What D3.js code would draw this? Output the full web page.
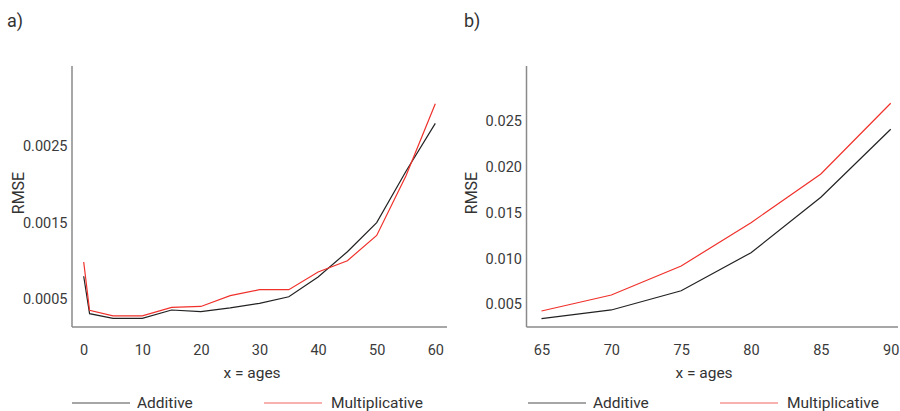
<!DOCTYPE html>
<html>
<head>
<meta charset="utf-8">
<script src="https://cdn.jsdelivr.net/npm/d3@7"></script>
<style>
  html, body { margin: 0; padding: 0; background: #fff; }
  svg { display: block; font-family: Roboto, "Noto Sans", sans-serif; }
  .tick text { fill: #3a3a3a; font-size: 14.5px; }
</style>
</head>
<body>
<svg id="chart" width="900" height="411"></svg>
<script>
// ---- Data ----
const agesA = [0, 1, 5, 10, 15, 20, 25, 30, 35, 40, 45, 50, 55, 60];
const additiveA = [0.000800, 0.000312, 0.000250, 0.000250, 0.000360, 0.000338, 0.000388, 0.000447, 0.000533, 0.000790, 0.001120, 0.001500, 0.002170, 0.002795];
const multiplicativeA = [0.000986, 0.000355, 0.000283, 0.000283, 0.000395, 0.000406, 0.000547, 0.000625, 0.000625, 0.000856, 0.001003, 0.001333, 0.002110, 0.003050];

const agesB = [65, 70, 75, 80, 85, 90];
const additiveB = [0.00343, 0.00438, 0.00648, 0.01063, 0.01668, 0.02410];
const multiplicativeB = [0.00427, 0.00601, 0.00918, 0.01391, 0.01922, 0.02694];

const yTicksA = [0.0005, 0.0015, 0.0025];
const yTicksB = [0.005, 0.010, 0.015, 0.020, 0.025];
const xTicksA = [0, 10, 20, 30, 40, 50, 60];
const xTicksB = [65, 70, 75, 80, 85, 90];
const seriesNames = ["Additive", "Multiplicative"];
const seriesColors = ["#222222", "#f0312b"];

const svg = d3.select("#chart");

function panel(cfg) {
  const g = svg.append("g");
  const x = d3.scaleLinear().domain(cfg.xDomain).range(cfg.xRange);
  const y = d3.scaleLinear().domain(cfg.yDomain).range([327, 66]);

  // axis lines
  g.append("line").attr("x1", cfg.axisX).attr("x2", cfg.axisX).attr("y1", 66).attr("y2", 327)
    .attr("stroke", "#8a8a8a").attr("stroke-width", 1.5);
  g.append("line").attr("x1", cfg.axisX).attr("x2", cfg.axisRight).attr("y1", 327).attr("y2", 327)
    .attr("stroke", "#8a8a8a").attr("stroke-width", 1.5);

  const ya = g.append("g").attr("transform", `translate(${cfg.axisX - 0.5},0)`)
    .call(d3.axisLeft(y).tickValues(cfg.yTicks).tickFormat(d3.format(cfg.yFmt)).tickSize(0).tickPadding(4));
  ya.select(".domain").remove();
  const xa = g.append("g").attr("transform", `translate(0,327)`)
    .call(d3.axisBottom(x).tickValues(cfg.xTicks).tickFormat(d3.format("d")).tickSize(0).tickPadding(18));
  xa.select(".domain").remove();
  g.selectAll(".tick text").attr("font-family", "Roboto, sans-serif");

  const line = d3.line().x(d => x(d[0])).y(d => y(d[1]));
  [cfg.add, cfg.mult].forEach((vals, i) => {
    g.append("path")
      .datum(cfg.ages.map((a, j) => [a, vals[j]]))
      .attr("fill", "none")
      .attr("stroke", seriesColors[i])
      .attr("stroke-width", 1.2)
      .attr("d", line);
  });

  // labels
  g.append("text").attr("x", cfg.panelLabelX).attr("y", 27).text(cfg.panelLabel)
    .attr("font-size", 18).attr("fill", "#333");
  g.append("text").attr("transform", `translate(${cfg.rmseX},193) rotate(-90)`)
    .attr("text-anchor", "middle").attr("dominant-baseline", "central")
    .attr("font-size", 16).attr("fill", "#333").text("RMSE");
  g.append("text").attr("x", cfg.titleX).attr("y", 373).attr("text-anchor", "middle")
    .attr("dominant-baseline", "central").attr("font-size", 15.5).attr("fill", "#333").text("x = ages");

  // legend
  cfg.legend.forEach((lg, i) => {
    g.append("line").attr("x1", lg.x1).attr("x2", lg.x2).attr("y1", 403).attr("y2", 403)
      .attr("stroke", seriesColors[i]).attr("stroke-opacity", i === 0 ? 0.8 : 0.75).attr("stroke-width", 1.2);
    g.append("text").attr("x", lg.tx).attr("y", 403).attr("dominant-baseline", "central")
      .attr("font-size", 15.5).attr("fill", "#333").text(seriesNames[i]);
  });
}

panel({
  xDomain: [0, 60], xRange: [83.7, 435.3],
  yDomain: [0.000138, 0.003543],
  axisX: 72, axisRight: 447,
  yTicks: yTicksA, yFmt: ".4f", xTicks: xTicksA,
  ages: agesA, add: additiveA, mult: multiplicativeA,
  panelLabel: "a)", panelLabelX: 7, rmseX: 18, titleX: 252,
  legend: [{x1: 72, x2: 130, tx: 137}, {x1: 264, x2: 322, tx: 331}]
});

panel({
  xDomain: [65, 90], xRange: [541.5, 890.7],
  yDomain: [0.00252, 0.03101],
  axisX: 526.5, axisRight: 898,
  yTicks: yTicksB, yFmt: ".3f", xTicks: xTicksB,
  ages: agesB, add: additiveB, mult: multiplicativeB,
  panelLabel: "b)", panelLabelX: 464, rmseX: 471.5, titleX: 704,
  legend: [{x1: 528, x2: 586, tx: 593}, {x1: 720, x2: 778, tx: 787}]
});
</script>
</body>
</html>
